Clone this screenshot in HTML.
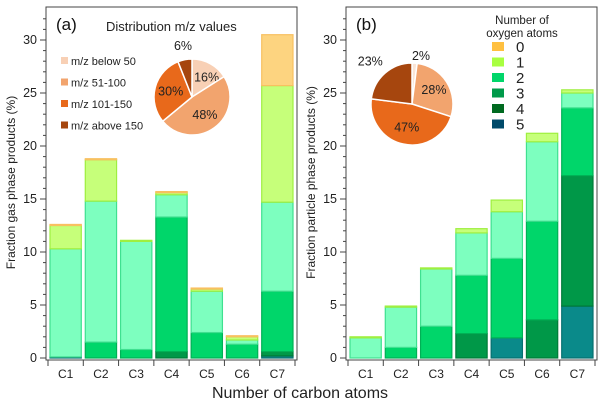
<!DOCTYPE html>
<html><head><meta charset="utf-8"><style>
body{margin:0;background:#fff;font-family:"Liberation Sans",sans-serif}
svg text{font-family:"Liberation Sans",sans-serif}
</style></head><body>
<svg id="c" width="600" height="405" viewBox="0 0 600 405"></svg>
<script>
const categories=["C1","C2","C3","C4","C5","C6","C7"];
const yTicks=[0,5,10,15,20,25,30];
// panel a cumulative tops per layer (teal, dark, green, mint, lime, orange)
const gasTeal=[0.1,0,0,0,0,0,0.2];
const gasDark=[0.1,0,0,0.6,0,0,0.6];
const gasGreen=[0.1,1.5,0.8,13.3,2.4,1.3,6.3];
const gasMint=[10.3,14.8,11.0,15.4,6.3,1.7,14.7];
const gasLime=[12.5,18.7,11.1,15.6,6.5,2.0,25.7];
const gasOrange=[12.6,18.8,11.1,15.7,6.6,2.1,30.5];
// panel b cumulative tops
const partTeal=[0,0,0,0,1.9,0,4.9];
const partDark=[0,0,0,2.3,1.9,3.6,17.2];
const partGreen=[0,1.0,3.0,7.8,9.4,12.9,23.6];
const partMint=[1.9,4.8,8.4,11.8,13.8,20.4,25.0];
const partLime=[2.0,4.9,8.5,12.2,14.9,21.2,25.3];
const pieA=[16,48,30,6];
const pieB=[2,28,47,23];
const pieALabels=["m/z below 50","m/z 51-100","m/z 101-150","m/z  above 150"];
const oxyLabels=["0","1","2","3","4","5"];

const NS="http://www.w3.org/2000/svg",svg=document.getElementById('c');
function el(t,a,p){const e=document.createElementNS(NS,t);for(const k in a)e.setAttribute(k,a[k]);(p||svg).appendChild(e);return e;}
const layerCols=["#0a8a8a","#009848","#00d66a","#7dffbf","#c6ff7a","#fdd480"];
const layerStroke=["#077070","#007a38","#00b055","#3fe090","#9fef40","#f8c060"];
function panel(x0,x1,ylab,layers,letter,name){
  const y0=358,yTop=40,sc=(y0-yTop)/30;
  const Y=v=>y0-v*sc;
  const g=el('g',{});  
  el('rect',{x:x0,y:7,width:x1-x0,height:y0-7+2,fill:'none',stroke:'#444','stroke-width':1},g);
  for(let v=0;v<=32;v++){const maj=v%5==0;
    el('line',{x1:x0,x2:x0-(maj?6:3),y1:Y(v),y2:Y(v),stroke:'#444','stroke-width':1},g);}
  yTicks.forEach(v=>{const t=el('text',{x:x0-9,y:Y(v)+4,'text-anchor':'end','font-size':12.5,fill:'#222'},g);t.textContent=v;
    });
  const bw=(x1-x0-4)/7;
  for(let i=0;i<=7;i++){el('line',{x1:x0+2+i*bw,x2:x0+2+i*bw,y1:y0+2,y2:y0+8,stroke:'#444'},g);}
  categories.forEach((c,i)=>{
    const bx=x0+2+i*bw+2,w=bw-4;let prev=0;
    layers.forEach((arr,li)=>{const top=arr[i];if(top>prev){
      const r=el('rect',{x:bx,y:Y(top),width:w,height:Y(prev)-Y(top),fill:layerCols[li],stroke:layerStroke[li],'stroke-width':1.2},g);
      prev=top;}});
    const t=el('text',{x:bx+w/2,y:y0+20,'text-anchor':'middle','font-size':12,fill:'#222'},g);t.textContent=c;
    
  });
  const yl=el('text',{x:0,y:0,transform:`translate(${x0-31},${(y0+7)/2}) rotate(-90)`,'text-anchor':'middle','font-size':12,fill:'#222'},g);yl.textContent=ylab;
  
  const lt=el('text',{x:x0+10,y:30,'font-size':17,fill:'#111'},g);lt.textContent=letter;
  
}
panel(46,297,"Fraction gas phase products (%)",[gasTeal,gasDark,gasGreen,gasMint,gasLime,gasOrange],"(a)","panel-a");
panel(346,597,"Fraction particle phase products (%)",[partTeal,partDark,partGreen,partMint,partLime],"(b)","panel-b");

function pie(cx,cy,r,vals,cols,labs,name){
  let a=-Math.PI/2;const tot=vals.reduce((s,v)=>s+v,0);
  vals.forEach((v,i)=>{const da=v/tot*2*Math.PI,a2=a+da;
    const p=el('path',{d:`M${cx},${cy}L${cx+r*Math.cos(a)},${cy+r*Math.sin(a)}A${r},${r} 0 ${da>Math.PI?1:0} 1 ${cx+r*Math.cos(a2)},${cy+r*Math.sin(a2)}Z`,fill:cols[i],stroke:'#fff','stroke-width':1.5});
    
    const m=(a+a2)/2,lr=labs[i][0];
    const t=el('text',{x:cx+lr*Math.cos(m)+labs[i][1],y:cy+lr*Math.sin(m)+4+labs[i][2],'text-anchor':'middle','font-size':12.5,fill:'#222'});t.textContent=v+'%';
    
    a=a2;});
}
pie(192,97,38,pieA,["#f8d0b5","#f2a46e","#e8691b","#a6460e"],[[22,4,0],[22,0,0],[22,0,0],[48,0,-4]],"pie-a");
pie(412,104,41,pieB,["#fbe5d6","#f2a46e","#e8691b","#a6460e"],[[48,6,0],[26,0,0],[24,0,0],[54,-6,-2]],"pie-b");

const tA=el('text',{x:106,y:31,'font-size':13,fill:'#222'});tA.textContent="Distribution  m/z values";

const pieCols=["#f8d0b5","#f2a46e","#e8691b","#a6460e"];
pieALabels.forEach((l,i)=>{const y=62+i*21.5;
  const r=el('rect',{x:61,y:y-5,width:7,height:7,fill:pieCols[i]});
  const t=el('text',{x:71,y:y+3,'font-size':11,fill:'#222'});t.textContent=l;});
const lt1=el('text',{x:522,y:24,'text-anchor':'middle','font-size':11.5,fill:'#222'});lt1.textContent="Number of";

const lt2=el('text',{x:522,y:37,'text-anchor':'middle','font-size':11.5,fill:'#222'});lt2.textContent="oxygen atoms";

const oxCols=["#ffc040","#a8ff40","#00d66a","#009a4a","#006a20","#004a6a"];
oxyLabels.forEach((l,i)=>{const y=42+i*15.5;
  const r=el('rect',{x:492,y:y,width:12,height:9,fill:oxCols[i]});
  const t=el('text',{x:516,y:y+10,'font-size':15,fill:'#222'});t.textContent=l;});
const xt=el('text',{x:300,y:398,'text-anchor':'middle','font-size':16,fill:'#222'});xt.textContent="Number of carbon atoms";

</script></body></html>
